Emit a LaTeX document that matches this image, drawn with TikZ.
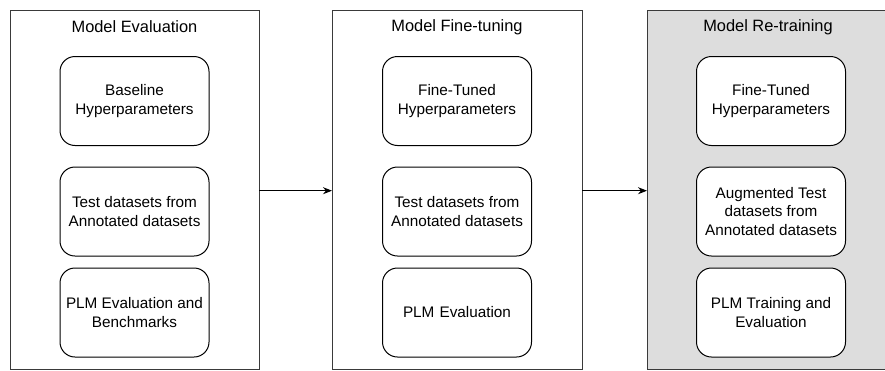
\documentclass[tikz,border=0pt]{standalone}
\usepackage{fontspec}
\setmainfont{Liberation Sans}
\usetikzlibrary{arrows.meta}
\definecolor{stagegrey}{HTML}{DDDDDD}
\definecolor{framegrey}{HTML}{3A3A3A}
\tikzset{
  stage/.style={draw=framegrey, line width=1pt, anchor=north west,
    minimum width=#1, minimum height=359pt, inner sep=0pt},
  stagetitle/.style={font=\fontsize{16.4}{19}\selectfont, inner sep=0pt},
  task/.style={draw=black, line width=1pt, rounded corners=15pt, fill=white,
    minimum width=149pt, minimum height=89pt, inner sep=0pt, align=center,
    font=\fontsize{15.3}{18.3}\selectfont},
  flow/.style={line width=1pt, -{Stealth[length=9pt,width=7pt]}}
}
\begin{document}
\begin{tikzpicture}[x=1pt, y=-1pt]
  \useasboundingbox (0,0) rectangle (885,370);
  % three stage frames; the last one runs past the right edge
  \node[stage=249pt] (s1) at (10,10) {};
  \node[stage=250pt] (s2) at (332,10) {};
  \begin{scope}
    \clip (0,0) rectangle (885,371);
    \node[stage=270pt, fill=stagegrey] (s3) at (647,10) {};
  \end{scope}
  % stage titles
  \node[stagetitle] (t1) at (134.5,27) {Model Evaluation};
  \node[stagetitle] (t2) at (457,27) {Model Fine-tuning};
  \node[stagetitle] (t3) at (768,27) {Model Re-training};
  % tasks of the evaluation stage
  \node[task] (e1) at (134.5,101) {Baseline\\Hyperparameters};
  \node[task] (e2) at (134.5,211.5) {Test datasets from\\Annotated datasets};
  \node[task] (e3) at (134.5,312.5) {PLM Evaluation and\\Benchmarks};
  % tasks of the fine-tuning stage
  \node[task] (f1) at (457,101) {Fine-Tuned\\Hyperparameters};
  \node[task] (f2) at (457,211.5) {Test datasets from\\Annotated datasets};
  \node[task, text width=149pt, align=center] (f3) at (457,312.5) {PLM Evaluation\hspace*{9pt}};
  % tasks of the re-training stage
  \node[task] (r1) at (771,101) {Fine-Tuned\\Hyperparameters};
  \node[task] (r2) at (771,211.5) {Augmented Test\\datasets from\\Annotated datasets};
  \node[task] (r3) at (771,312.5) {PLM Training and\\Evaluation};
  % flow between stages
  \coordinate (a1s) at (259,190.7);
  \coordinate (a1e) at (332,190.7);
  \coordinate (a2s) at (582,190.7);
  \coordinate (a2e) at (647,190.7);
  \draw[flow] (a1s) -- (a1e);
  \draw[flow] (a2s) -- (a2e);
\end{tikzpicture}
\end{document}
